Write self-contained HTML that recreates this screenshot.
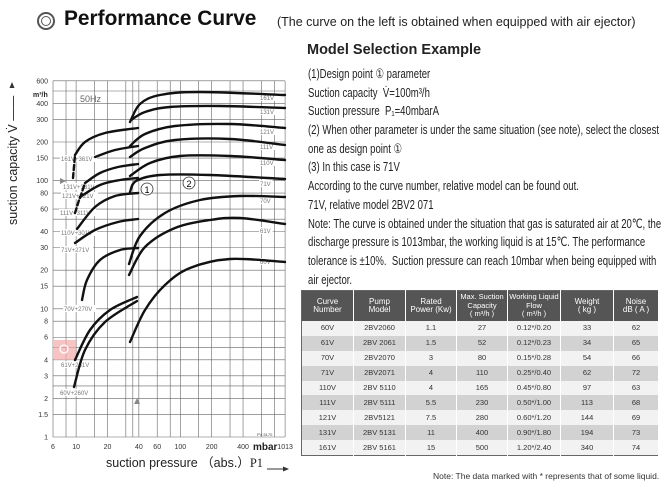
<!DOCTYPE html>
<html><head><meta charset="utf-8"><style>
body{margin:0;width:671px;height:493px;background:#fff;position:relative;overflow:hidden;font-family:"Liberation Sans",sans-serif;color:#222}
.a{position:absolute;white-space:nowrap}
.txt{position:absolute;left:308px;top:65px;font-size:13px;transform:scaleX(0.735);transform-origin:0 0;color:#222}
.txt div{height:18.7px;line-height:18.7px;white-space:nowrap}
table{position:absolute;left:301px;top:290px;width:358px;border-collapse:collapse;font-size:7.5px;text-align:center;border:1px solid #666;table-layout:fixed}
th{background:#555;color:#fff;font-weight:normal;height:30px;font-size:8px;line-height:8.5px;padding:0;overflow:hidden;white-space:nowrap}
td{height:14.9px;padding:0;color:#333;line-height:8px}
tr:nth-child(even) td{background:#f2f2f2}
tr:nth-child(odd) td{background:#d2d2d2}
td,th{border-right:1px solid #fff}
</style></head><body>
<div class="a" style="left:37px;top:12px;width:14px;height:14px;border:2px solid #555;border-radius:50%"></div>
<div class="a" style="left:41px;top:16px;width:8px;height:8px;border:1.5px solid #555;border-radius:50%"></div>
<div class="a" style="left:64px;top:6px;font-size:21.5px;font-weight:bold;color:#111;transform:scaleX(0.97);transform-origin:0 0">Performance Curve</div>
<div class="a" style="left:277px;top:15px;font-size:12.5px;color:#222">(The curve on the left is obtained when equipped with air ejector)</div>
<div class="a" style="left:307px;top:42px;font-size:14.5px;font-weight:bold;color:#222">Model Selection Example</div>
<div class="txt">
<div>(1)Design point ① parameter</div>
<div>Suction capacity &nbsp;V̇=100m³/h</div>
<div>Suction pressure &nbsp;P₁=40mbarA</div>
<div>(2) When other parameter is under the same situation (see note), select the closest</div>
<div>one as design point ①</div>
<div>(3) In this case is 71V</div>
<div>According to the curve number, relative model can be found out.</div>
<div>71V, relative model 2BV2 071</div>
<div>Note: The curve is obtained under the situation that gas is saturated air at 20℃, the</div>
<div>discharge pressure is 1013mbar, the working liquid is at 15℃. The performance</div>
<div>tolerance is ±10%.&nbsp; Suction pressure can reach 10mbar when being equipped with</div>
<div>air ejector.</div>
</div>
<table>
<tr><th style="width:51px">Curve<br>Number</th><th style="width:51px">Pump<br>Model</th><th style="width:50px">Rated<br>Power (Kw)</th><th style="width:50px;font-size:7.5px">Max. Suction<br>Capacity<br>( m³/h )</th><th style="width:52px;font-size:7.5px">Working Liquid<br>Flow<br>( m³/h )</th><th style="width:52px">Weight<br>( kg )</th><th>Noise<br>dB ( A )</th></tr>
<tr><td>60V</td><td>2BV2060</td><td>1.1</td><td>27</td><td>0.12*/0.20</td><td>33</td><td>62</td></tr>
<tr><td>61V</td><td>2BV 2061</td><td>1.5</td><td>52</td><td>0.12*/0.23</td><td>34</td><td>65</td></tr>
<tr><td>70V</td><td>2BV2070</td><td>3</td><td>80</td><td>0.15*/0.28</td><td>54</td><td>66</td></tr>
<tr><td>71V</td><td>2BV2071</td><td>4</td><td>110</td><td>0.25*/0.40</td><td>62</td><td>72</td></tr>
<tr><td>110V</td><td>2BV 5110</td><td>4</td><td>165</td><td>0.45*/0.80</td><td>97</td><td>63</td></tr>
<tr><td>111V</td><td>2BV 5111</td><td>5.5</td><td>230</td><td>0.50*/1.00</td><td>113</td><td>68</td></tr>
<tr><td>121V</td><td>2BV5121</td><td>7.5</td><td>280</td><td>0.60*/1.20</td><td>144</td><td>69</td></tr>
<tr><td>131V</td><td>2BV 5131</td><td>11</td><td>400</td><td>0.90*/1.80</td><td>194</td><td>73</td></tr>
<tr><td>161V</td><td>2BV 5161</td><td>15</td><td>500</td><td>1.20*/2.40</td><td>340</td><td>74</td></tr>
</table>
<div class="a" style="left:433px;top:471px;font-size:8.5px;color:#333">Note: The data marked with * represents that of some liquid.</div>
<svg id="s" class="a" style="left:0;top:0" width="300" height="493" xmlns="http://www.w3.org/2000/svg" font-family="Liberation Sans, sans-serif"></svg>
<script>
var s=document.getElementById('s'),h='';
function X(v){return 53+(Math.log10(v)-Math.log10(6))*104.2}
function Y(v){return 437-Math.log10(v)*128.2}
[6,8,10,15,20,30,35,40,60,80,100,150,200,300,400,600,800,1013].forEach(function(v){h+='<line x1="'+X(v)+'" y1="'+Y(600)+'" x2="'+X(v)+'" y2="437" stroke="#666" stroke-width="0.6"/>'});
[1,1.5,2,2.5,3,4,5,6,8,10,15,20,30,40,50,60,80,100,150,200,300,400,500,600].forEach(function(v){h+='<line x1="53" y1="'+Y(v)+'" x2="285" y2="'+Y(v)+'" stroke="#666" stroke-width="0.6"/>'});
[[600,'600'],[400,'400'],[300,'300'],[200,'200'],[150,'150'],[100,'100'],[80,'80'],[60,'60'],[40,'40'],[30,'30'],[20,'20'],[15,'15'],[10,'10'],[8,'8'],[6,'6'],[4,'4'],[3,'3'],[2,'2'],[1.5,'1.5'],[1,'1']].forEach(function(a){h+='<text x="48" y="'+(Y(a[0])+2.5)+'" font-size="7" text-anchor="end" fill="#333">'+a[1]+'</text>'});
[[6,'6'],[10,'10'],[20,'20'],[40,'40'],[60,'60'],[100,'100'],[200,'200'],[400,'400'],[1013,'1013']].forEach(function(a){h+='<text x="'+X(a[0])+'" y="449" font-size="7" text-anchor="middle" fill="#333">'+a[1]+'</text>'});
h+='<text x="253" y="450" font-size="10" font-weight="bold" fill="#222">mbar</text>';
h+='<text x="106" y="467" font-size="12.5" fill="#222">suction pressure （abs.）<tspan font-family="Liberation Serif">P1</tspan></text>';
h+='<line x1="267" y1="469" x2="285" y2="469" stroke="#333"/><path d="M289 469l-6-2.5v5z" fill="#333"/>';
h+='<text x="33" y="97" font-size="7" font-weight="bold" fill="#222">m³/h</text>';
h+='<text x="80" y="102" font-size="9" fill="#666">50Hz</text>';
h+='<text x="17" y="225" font-size="12.5" fill="#222" transform="rotate(-90 17 225)">suction capacity V̇ ——</text>';
h+='<path d="M12 82l-2.5 6h5z" fill="#333"/>';
h+='<text x="257" y="436" font-size="4" fill="#444">PV-5170</text>';
h+='<path d="M60 178l6 3-6 3z" fill="#888"/><path d="M137 398l3 6h-6z" fill="#888"/>';
h+='<rect x="54" y="340" width="22" height="20" fill="#f4aaaa" opacity="0.7"/><circle cx="64" cy="349" r="4" fill="none" stroke="#fff" stroke-width="1.3"/>';
h+='<circle cx="147" cy="189" r="6" fill="#fff" stroke="#333" stroke-width="0.8"/><text x="147" y="193" font-size="9" text-anchor="middle">1</text>';
h+='<circle cx="189" cy="183" r="6" fill="#fff" stroke="#333" stroke-width="0.8"/><text x="189" y="187" font-size="9" text-anchor="middle">2</text>';
function lab(x,y,t){h+='<rect x="'+(x-1)+'" y="'+(y-6)+'" width="'+(t.length*3.9+2)+'" height="7" fill="#fff"/><text x="'+x+'" y="'+y+'" font-size="6" fill="#777">'+t+'</text>'}
lab(260,100,'161V');lab(260,114,'131V');lab(260,134,'121V');lab(260,149,'111V');lab(260,165,'110V');lab(260,186,'71V');lab(260,203,'70V');lab(260,233,'61V');lab(260,264,'60V');
lab(61,161,'161V+361V');lab(63,189,'131V+331V');lab(62,198,'121V+321V');lab(60,215,'111V+311V');lab(61,235,'110V+301V');lab(61,252,'71V+271V');lab(64,311,'70V+270V');lab(61,367,'61V+261V');lab(60,395,'60V+260V');
function cr(p){var d='M'+p[0][0]+' '+p[0][1];for(var i=0;i<p.length-1;i++){var a=p[i-1]||p[i],b=p[i],c=p[i+1],e=p[i+2]||c;d+=' C'+(b[0]+(c[0]-a[0])/6)+' '+(b[1]+(c[1]-a[1])/6)+' '+(c[0]-(e[0]-b[0])/6)+' '+(c[1]-(e[1]-b[1])/6)+' '+c[0]+' '+c[1]}return d}
function L(p,dash){h+='<path d="'+cr(p)+'" fill="none" stroke="#111" stroke-width="2.4" stroke-linecap="round"'+(dash?' stroke-dasharray="5 3"':'')+'/>'}
L([[130,122],[140,104],[160,95],[200,92],[285,95]]);
L([[131,120],[145,112],[170,107],[220,106],[285,108]]);
L([[130,146],[145,134],[175,126],[230,124],[285,128]]);
L([[130,157],[145,148],[175,140],[230,139],[285,145]]);
L([[130,176],[150,163],[180,156],[230,156],[285,160]]);
L([[130,192],[136,181],[160,175],[210,175],[285,179]]);
L([[129,264],[140,236],[165,213],[200,200],[240,196],[285,197]]);
L([[129,275],[145,247],[175,228],[210,220],[240,218],[285,224]]);
L([[130,342],[145,310],[165,285],[190,268],[230,259],[285,262]]);
L([[75,155],[85,142],[105,133],[138,128]]);L([[73,178],[75,155]],1);
L([[95,157],[115,150],[138,146]]);
L([[85,183],[100,173],[118,167],[138,164]]);L([[80,198],[85,183]],1);
L([[80,197],[100,185],[120,180],[138,178]]);L([[75,213],[80,197]],1);
L([[77,229],[95,207],[115,196],[138,193]]);
L([[75,243],[95,230],[118,222],[138,219]]);
L([[82,300],[87,280],[100,260],[120,250],[138,248]]);
L([[75,360],[90,330],[110,310],[137,297]]);
L([[74,387],[85,350],[105,322],[137,301]]);
s.innerHTML=h;
</script>
</body></html>
